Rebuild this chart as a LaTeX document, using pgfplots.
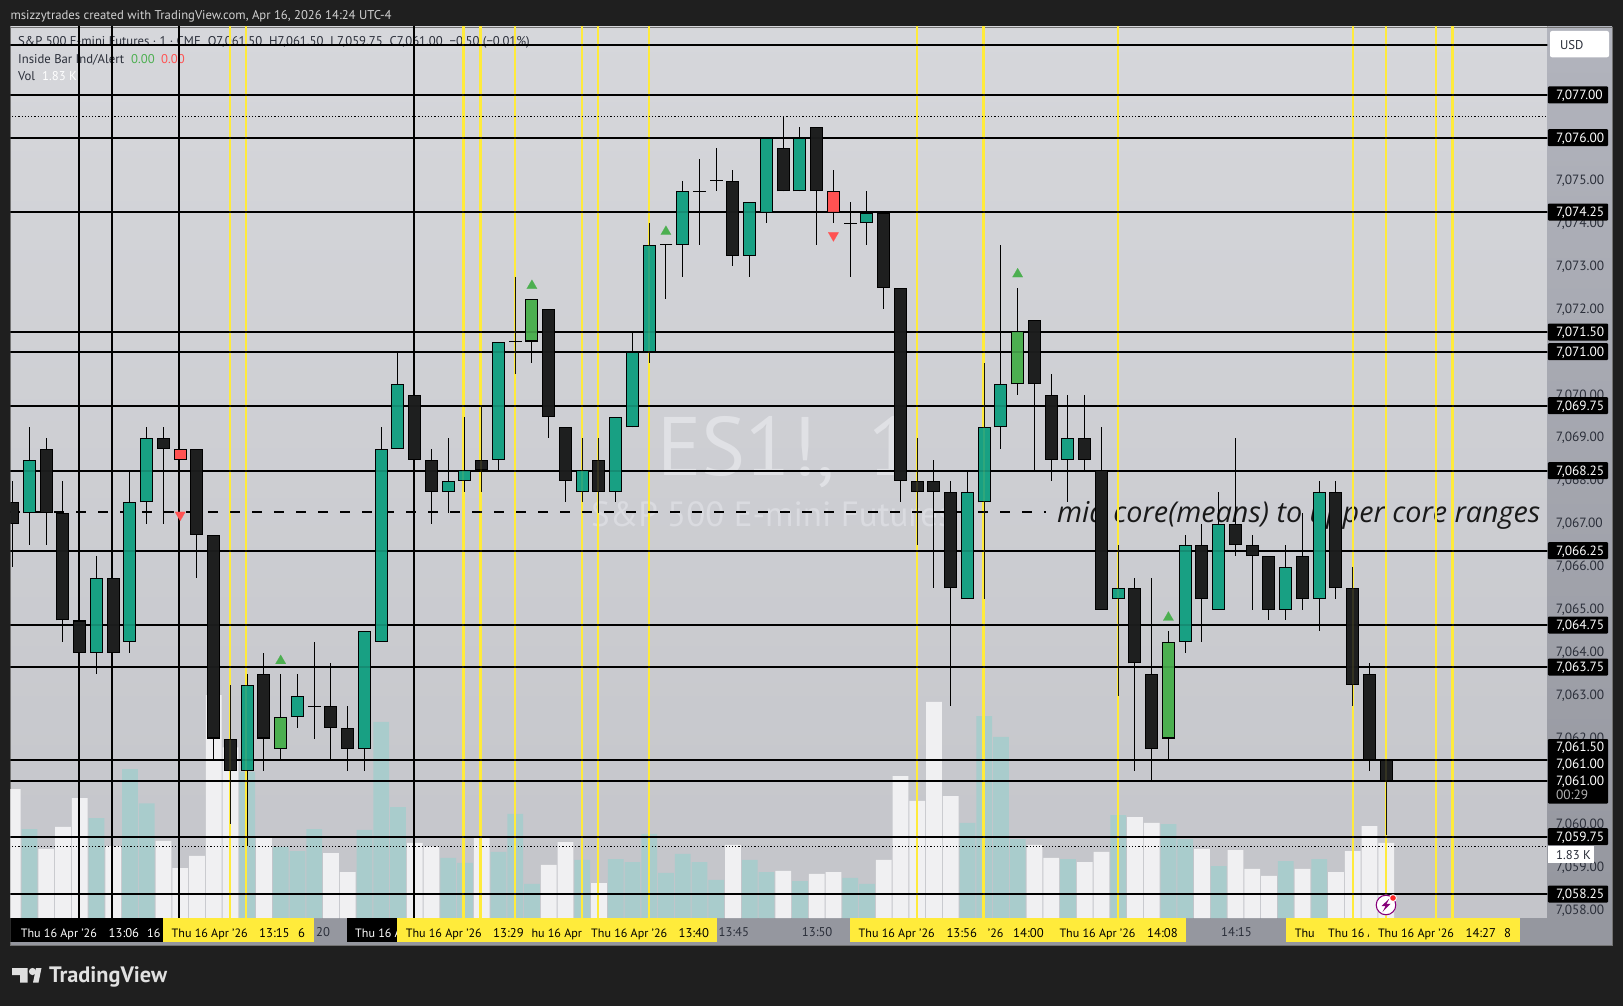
\documentclass[border=0pt]{standalone}
\usepackage{pgfplots}
\usepackage{pgfplotstable}
\usepackage{fontspec}
\pgfplotsset{compat=1.18}
\setmainfont{PT Sans}
\newfontfamily\notefont{Open Sans}
\definecolor{bgd}{HTML}{1F1F1F}
\definecolor{pantop}{HTML}{D6D7DB}
\definecolor{panbot}{HTML}{C4C5CA}
\definecolor{axtop}{HTML}{B2B4BD}
\definecolor{axbot}{HTML}{95979F}
\definecolor{teal1}{HTML}{18A083}
\definecolor{dark1}{HTML}{1E1F1F}
\definecolor{grn1}{HTML}{4CAF50}
\definecolor{red1}{HTML}{FF5252}
\definecolor{volw}{HTML}{F0F0F2}
\definecolor{volt}{HTML}{A9CCCC}
\definecolor{yel}{HTML}{FFEB3B}
\definecolor{ylab}{HTML}{FFEB3B}
\definecolor{tick}{HTML}{2A2E39}
\definecolor{wm}{HTML}{E0E1E5}
\definecolor{wmb}{HTML}{DADBE0}
\newcommand\tv{\fontsize{12.7}{15}\selectfont}
\newcommand\tvp{\fontsize{13.4}{15}\selectfont}
\newcommand\tvd{\fontsize{12.1}{15}\selectfont}
\newcommand\lab[4][]{\node[anchor=base west,inner sep=0pt,font=\tv,#1] at (#2,#3) {#4};}
\newcommand\dlab[4][]{\node[anchor=base west,inner sep=0pt,font=\tvd,#1] at (#2,#3) {#4};}
\newcommand\plab[4][]{\node[anchor=base west,inner sep=0pt,font=\tvp,#1] at (#2,#3) {#4};}

% bars: x, body bottom, body top, low, high
\pgfplotstableread{
x bot top low high
1 7067.25 7068.5 7066.5 7069.25
5 7064 7065.75 7063.5 7066.25
7 7064.25 7067.5 7064 7068.25
8 7067.5 7069 7067 7069.25
14 7061.25 7063.25 7059.5 7063.5
17 7062.5 7063 7062.25 7063.5
21 7061.75 7064.5 7061.25 7064.5
22 7064.25 7068.75 7064.25 7069.25
23 7068.75 7070.25 7068.75 7071
26 7067.75 7068 7067.25 7069
27 7068 7068.25 7067.75 7069.5
29 7068.5 7071.25 7068.25 7071.25
34 7067.75 7068.25 7067.5 7069
36 7067.75 7069.5 7067.5 7069.5
37 7069.25 7071 7069.25 7071.5
38 7071 7073.5 7070.75 7074
40 7073.5 7074.75 7072.75 7075
44 7073.25 7074.5 7072.75 7074.5
45 7074.25 7076 7074 7076
47 7074.75 7076 7074.75 7076.25
51 7074 7074.25 7073.5 7074.75
57 7065.25 7067.75 7065.25 7068.25
58 7067.5 7069.25 7065.25 7070.75
59 7069.25 7070.25 7068.75 7073.5
63 7068.5 7069 7067.5 7070
66 7065.25 7065.5 7063 7066.5
70 7064.25 7066.5 7064 7066.75
72 7065 7067 7065 7067.75
76 7065 7066 7064.75 7066.5
78 7065.25 7067.75 7064.5 7068
}\tealbars
\pgfplotstableread{
x bot top low high
0 7067 7067.5 7066 7068
2 7067.25 7068.75 7066.5 7069
3 7064.75 7067.25 7064.25 7068
4 7064 7064.75 7064 7064.75
6 7064 7065.75 7064 7065.75
9 7068.75 7069 7067 7069.25
11 7066.75 7068.75 7065.75 7068.75
12 7062 7066.75 7061.5 7066.75
13 7061.25 7062 7060 7063.25
15 7062 7063.5 7061.25 7064
19 7062.25 7062.75 7061.5 7063.75
20 7061.75 7062.25 7061.25 7062.75
24 7068.5 7070 7068.5 7070
25 7067.75 7068.5 7067 7068.75
28 7068.25 7068.5 7067.75 7069.75
32 7069.5 7072 7069 7072
33 7068 7069.25 7067.5 7069.25
35 7067.75 7068.5 7067.25 7069
43 7073.25 7075 7073 7075.25
46 7074.75 7075.75 7074.75 7076.5
48 7074.75 7076.25 7073.5 7076.25
52 7072.5 7074.25 7072 7074.25
53 7068 7072.5 7067.5 7072.5
54 7067.75 7068 7066.5 7069
55 7067.75 7068 7065.5 7068.5
56 7065.5 7067.75 7062.75 7068
61 7070.25 7071.75 7068.25 7071.75
62 7068.5 7070 7068 7070.5
64 7068.5 7069 7068.25 7070
65 7065 7068.25 7065 7069.25
67 7063.75 7065.5 7061.25 7065.75
68 7061.75 7063.5 7061 7065.75
71 7065.25 7066.5 7064.25 7067
73 7066.5 7067 7066.25 7069
74 7066.25 7066.5 7065 7066.75
75 7065 7066.25 7064.75 7066.25
77 7065.25 7066.25 7065 7067.25
79 7065.5 7067.75 7065.25 7068
80 7063.25 7065.5 7062.75 7066
81 7061.5 7063.5 7061.25 7063.75
82 7061 7061.5 7059.75 7061.5
}\blackbars
\pgfplotstableread{
x bot top low high
16 7061.75 7062.5 7061.5 7063.5
31 7071.25 7072.25 7070.75 7072.25
60 7070.25 7071.5 7070 7072.5
69 7062 7064.25 7061.5 7064.5
}\greenbars
\pgfplotstableread{
x bot top low high
10 7068.5 7068.75 7068.5 7068.75
49 7074.25 7074.75 7074 7075.25
}\redbars
\pgfplotstableread{
x close low high
18 7062.75 7062 7064.25
30 7071.25 7070.5 7072.75
39 7073.5 7072.25 7073.5
41 7074.75 7073.5 7075.5
42 7075 7074.75 7075.75
50 7074 7072.75 7074.5
}\dojis
\pgfplotstableread{
x y
16 7063.79
31 7072.53
39 7073.79
60 7072.8
69 7064.8
}\uptri
\pgfplotstableread{
x y
10 7067.19
49 7073.7
}\downtri
% volume in thousands
\pgfplotstableread{
x v
0 3.28
2 1.76
3 2.32
4 3.05
6 1.83
9 1.96
10 1.27
11 1.58
12 5.67
13 4.34
15 2.04
19 1.65
20 1.17
24 1.91
25 1.82
28 2.04
32 1.35
33 1.93
35 0.89
43 1.86
46 1.20
48 1.12
49 1.17
52 1.48
53 3.61
54 2.98
55 5.50
56 3.10
61 1.86
62 1.53
64 1.42
65 1.68
67 2.57
68 2.42
71 1.76
73 1.73
74 1.25
75 1.07
77 1.25
79 1.17
80 1.70
81 2.34
82 1.91
}\volwhite
\pgfplotstableread{
x v
1 2.26
5 2.54
7 3.79
8 2.92
14 3.72
16 1.81
17 1.70
18 2.26
21 2.24
22 4.99
23 2.82
26 1.53
27 1.40
29 1.68
30 2.65
31 0.87
34 1.48
36 1.50
37 1.42
38 2.14
39 1.15
40 1.63
41 1.42
42 0.97
44 1.48
45 1.17
47 0.94
50 1.02
51 0.87
57 2.42
58 5.14
59 4.61
60 2.01
63 1.50
66 2.62
69 2.39
70 2.01
72 1.32
76 1.45
78 1.50
}\volteal
\pgfplotstableread{
x y
-1 7078.138
95 7078.138
nan nan
-1 7076.973
95 7076.973
nan nan
-1 7075.979
95 7075.979
nan nan
-1 7074.247
95 7074.247
nan nan
-1 7071.452
95 7071.452
nan nan
-1 7070.99
95 7070.99
nan nan
-1 7069.734
95 7069.734
nan nan
-1 7068.22
95 7068.22
nan nan
-1 7066.356
95 7066.356
nan nan
-1 7064.625
95 7064.625
nan nan
-1 7063.646
95 7063.646
nan nan
-1 7061.48
95 7061.48
nan nan
-1 7061.0
95 7061.0
nan nan
-1 7059.69
95 7059.69
nan nan
-1 7058.357
95 7058.357
}\hlines
\pgfplotstableread{
x y
3.95 7050
3.95 7090
nan nan
5.92 7050
5.92 7090
nan nan
9.93 7050
9.93 7090
nan nan
23.95 7050
23.95 7090
}\vblack
\pgfplotstableread{
x y
12.97 7050
12.97 7090
nan nan
13.92 7050
13.92 7090
nan nan
26.91 7050
26.91 7090
nan nan
27.94 7050
27.94 7090
nan nan
29.98 7050
29.98 7090
nan nan
33.99 7050
33.99 7090
nan nan
34.94 7050
34.94 7090
nan nan
37.98 7050
37.98 7090
nan nan
53.99 7050
53.99 7090
nan nan
57.96 7050
57.96 7090
nan nan
65.99 7050
65.99 7090
nan nan
80.01 7050
80.01 7090
nan nan
81.99 7050
81.99 7090
nan nan
84.97 7050
84.97 7090
nan nan
85.96 7050
85.96 7090
}\vyellow

\pgfplotsset{tvaxis/.style={at={(10.3pt,-918pt)},anchor=south west,width=1537.2pt,height=891pt,
  scale only axis,xmin=-0.143,xmax=91.63,xtick=\empty,
  axis line style={draw=none},major tick length=0pt,unbounded coords=jump}}

\newcommand\candles[2]{%
\addplot[forget plot,draw=none,mark=none,error bars/.cd,y dir=both,y explicit,error mark=none,
  error bar style={draw=black,line width=1.05pt}]
  table[x=x,y expr=\thisrow{bot}-0.02,y error plus expr=\thisrow{high}-\thisrow{bot},y error minus expr=\thisrow{bot}-\thisrow{low}] {#1};
\addplot[forget plot,draw=none,mark=none,error bars/.cd,y dir=plus,y explicit,error mark=none,
  error bar style={draw=black,line width=12.9pt}]
  table[x=x,y expr=\thisrow{bot}-0.02,y error expr=\thisrow{top}-\thisrow{bot}] {#1};
\addplot[forget plot,draw=none,mark=none,error bars/.cd,y dir=plus,y explicit,error mark=none,
  error bar style={draw=#2,line width=11.1pt}]
  table[x=x,y expr=\thisrow{bot}+0.004,y error expr=\thisrow{top}-\thisrow{bot}-0.048] {#1};
}

\begin{document}
\begin{tikzpicture}[x=1pt,y=-1pt]
\path[use as bounding box] (0,0) rectangle (1623,1006);
\fill[bgd] (0,0) rectangle (1623,1006);
% panels
\shade[top color=pantop,bottom color=panbot] (10.3,27) rectangle (1547.5,918);
\shade[top color=axtop,bottom color=axbot] (1547.5,27) rectangle (1612,918);
\fill[axbot] (10.3,918) rectangle (1612,945);
\draw[color=black!55,line width=0.8pt] (10,27) rectangle (1612,945);
% header
\node[anchor=base west,inner sep=0pt,font=\tv,text=white!82!black] at (10.3,19.5) {msizzytrades created with TradingView.com, Apr 16, 2026 14:24 UTC-4};
% legend
\lab[text=tick]{18}{46}{S\&P 500 E-mini Futures · 1 · CME\hspace{7pt}O7,061.50\hspace{7pt}H7,061.50\hspace{7pt}L7,059.75\hspace{7pt}C7,061.00\hspace{7pt}−0.50 (−0.01\%)}
\lab[text=tick]{18}{63.5}{Inside Bar Ind/Alert}
\lab[text=grn1]{131}{63.5}{0.00}
\lab[text=red1]{161}{63.5}{0.00}
\lab[text=tick]{18}{80.5}{Vol}
\lab[text=white]{42}{80.5}{1.83 K}
% watermark
\node[anchor=base west,inner sep=0pt,text=wm,font=\fontsize{83}{90}\selectfont] at (657,475) {ES1!,\hspace{34pt}1};
\node[anchor=base west,inner sep=0pt,text=wmb,font=\fontsize{35}{40}\selectfont] at (591,526) {S\&P 500 E-mini Futures};

% volume
\begin{axis}[tvaxis,ymin=0,ymax=22.672,ytick=\empty,clip=true]
\addplot[ybar,bar width=15.8pt,bar shift=0pt,draw=none,fill=volw] table[x=x,y=v] {\volwhite};
\addplot[ybar,bar width=15.8pt,bar shift=0pt,draw=none,fill=volt] table[x=x,y=v] {\volteal};
\addplot[black,line width=0.9pt,dash pattern=on 1.2pt off 2pt] coordinates {(-1,1.83) (95,1.83)};
\end{axis}

% annotation
\node[anchor=base west,inner sep=0pt,text=black!90,font=\notefont\itshape\fontsize{28.7}{30}\selectfont] at (1057,522.5) {mid core(means) to upper core ranges};

% price
\begin{axis}[tvaxis,ymin=7057.798,ymax=7078.558,
  ytick={7058,7059,7060,7062,7063,7064,7065,7066,7067,7068,7069,7070,7072,7073,7074,7075},
  yticklabel pos=right,
  yticklabel style={font=\tvp,text=tick,inner sep=0pt,xshift=8.3pt,yshift=-1pt,
    /pgf/number format/.cd,fixed,fixed zerofill,precision=2,1000 sep={,},assume math mode=true}]
\addplot[yel,line width=2.4pt] table[x=x,y=y] {\vyellow};
\addplot[black,line width=2pt] table[x=x,y=y] {\vblack};
\addplot[black,line width=2pt] table[x=x,y=y] {\hlines};
\addplot[black,line width=0.9pt,dash pattern=on 1.2pt off 2pt] coordinates {(-1,7076.477) (95,7076.477)};
\addplot[black,line width=2pt,dash pattern=on 10pt off 12pt] coordinates {(-0.143,7067.258) (61.7,7067.258)};
\candles{\tealbars}{teal1}
\candles{\blackbars}{dark1}
\candles{\greenbars}{grn1}
\candles{\redbars}{red1}
\addplot[forget plot,draw=none,mark=none,error bars/.cd,y dir=both,y explicit,error mark=none,
  error bar style={draw=black,line width=1.05pt}]
  table[x=x,y expr=\thisrow{close}-0.02,y error plus expr=\thisrow{high}-\thisrow{close},y error minus expr=\thisrow{close}-\thisrow{low}] {\dojis};
\addplot[only marks,mark=-,mark size=6.4pt,mark options={draw=black,line width=1.05pt}] table[x=x,y expr=\thisrow{close}-0.02] {\dojis};
\addplot[only marks,mark=triangle*,mark size=6pt,mark options={fill=grn1,draw=grn1,line width=0.1pt}] table[x=x,y=y] {\uptri};
\addplot[only marks,mark=triangle*,mark size=6pt,mark options={fill=red1,draw=red1,line width=0.1pt,rotate=180}] table[x=x,y=y] {\downtri};
% drawings show faintly through the candle bodies
\addplot[black,line width=2pt,opacity=.12] table[x=x,y=y] {\hlines};
\addplot[yel,line width=2pt,opacity=.1] table[x=x,y=y] {\vyellow};
\end{axis}

% time axis
\begin{scope}
\clip (10.3,918) rectangle (1612,945);
\fill[black] (10.3,918) rectangle (163,941.7);
\dlab[text=white]{20.7}{937}{Thu 16 Apr '26}
\lab[text=white]{108.5}{937}{13:06}
\dlab[text=white]{147}{937}{16 Apr}
\fill[ylab] (163,918) rectangle (314,941.7);
\dlab[text=black]{171.5}{937}{Thu 16 Apr '26}
\lab[text=black]{259}{937}{13:15}
\lab[text=black]{298}{937}{6}
\lab[text=tick]{316}{936}{20}
\fill[black] (347,918) rectangle (397,941.7);
\dlab[text=white]{355}{937}{Thu 16 Apr}
\fill[ylab] (397,918) rectangle (717,941.7);
\dlab[text=black]{405.6}{937}{Thu 16 Apr '26}
\lab[text=black]{493}{937}{13:29}
\dlab[text=black]{531.3}{937}{hu 16 Apr}
\fill[ylab] (583,918) rectangle (717,941.7);
\dlab[text=black]{591}{937}{Thu 16 Apr '26}
\lab[text=black]{678.4}{937}{13:40}
\lab[text=tick]{718.4}{936}{13:45}
\lab[text=tick]{801.7}{936}{13:50}
\fill[ylab] (850,918) rectangle (1185.6,941.7);
\dlab[text=black]{858.5}{937}{Thu 16 Apr '26}
\lab[text=black]{946.3}{937}{13:56}
\dlab[text=black]{987.7}{937}{'26}
\lab[text=black]{1013}{937}{14:00}
\dlab[text=black]{1059.3}{937}{Thu 16 Apr '26}
\lab[text=black]{1147}{937}{14:08}
\lab[text=tick]{1221}{936}{14:15}
\fill[ylab] (1286.4,918) rectangle (1520.4,941.7);
\dlab[text=black]{1294.7}{937}{Thu}
\dlab[text=black]{1328}{937}{Thu 16 Apr}
\fill[ylab] (1369,918) rectangle (1520.4,941.7);
\dlab[text=black]{1377.8}{937}{Thu 16 Apr '26}
\lab[text=black]{1465.4}{937}{14:27}
\lab[text=black]{1504}{937}{8}
\end{scope}

% price labels
\fill[white,rounded corners=2pt] (1550,31) rectangle (1609,57.3);
\lab[text=tick]{1560}{49.5}{USD}
\newcommand\plabel[2]{\fill[black,rounded corners=1pt] (1547.8,#1-8.5) rectangle (1608,#1+8.5);
\plab[text=white]{1555.8}{#1+4.6}{#2}}
\plabel{95}{7,077.00}
\plabel{137.7}{7,076.00}
\plabel{212}{7,074.25}
\plabel{332}{7,071.50}
\plabel{351.7}{7,071.00}
\plabel{405.7}{7,069.75}
\plabel{470.7}{7,068.25}
\plabel{550.7}{7,066.25}
\plabel{625}{7,064.75}
\plabel{667}{7,063.75}
\fill[black,rounded corners=1pt] (1547.8,739) rectangle (1608,803.5);
\plab[text=white]{1555.8}{751.3}{7,061.50}
\plab[text=white]{1555.8}{768.3}{7,061.00}
\plab[text=white]{1555.8}{785.3}{7,061.00}
\plab[text=white!70!black]{1555.8}{799.3}{00:29}
\plabel{836.7}{7,059.75}
\plabel{894}{7,058.25}
\fill[white] (1547.8,846.3) rectangle (1593.5,862.7);
\lab[text=tick]{1556}{859}{1.83 K}

% alert icon
\fill[white] (1386,905) circle (10.5);
\draw[color=purple!70!blue,line width=1.1pt] (1386,905) circle (9.8);
\fill[color=purple!70!blue] (1389.5,898.5)--(1381.5,906)--(1385.5,906)--(1382.5,912)--(1390.5,903.8)--(1386.5,903.8)--cycle;
\fill[white] (1393,898) circle (3.8);
\fill[red!85!white] (1393,898) circle (2.8);

% logo
\fill[white!88!black] (12,968)--(27.5,968)--(27.5,982.7)--(20,982.7)--(20,975)--(12,975)--cycle;
\fill[white!88!black] (32.5,971.5) circle (3.6);
\fill[white!88!black] (33,982.7)--(36,968)--(41.5,968)--(38.5,982.7)--cycle;
\node[anchor=base west,inner sep=0pt,text=white!88!black,font=\bfseries\fontsize{22.3}{28}\selectfont] at (49,982) {TradingView};
\end{tikzpicture}
\end{document}
